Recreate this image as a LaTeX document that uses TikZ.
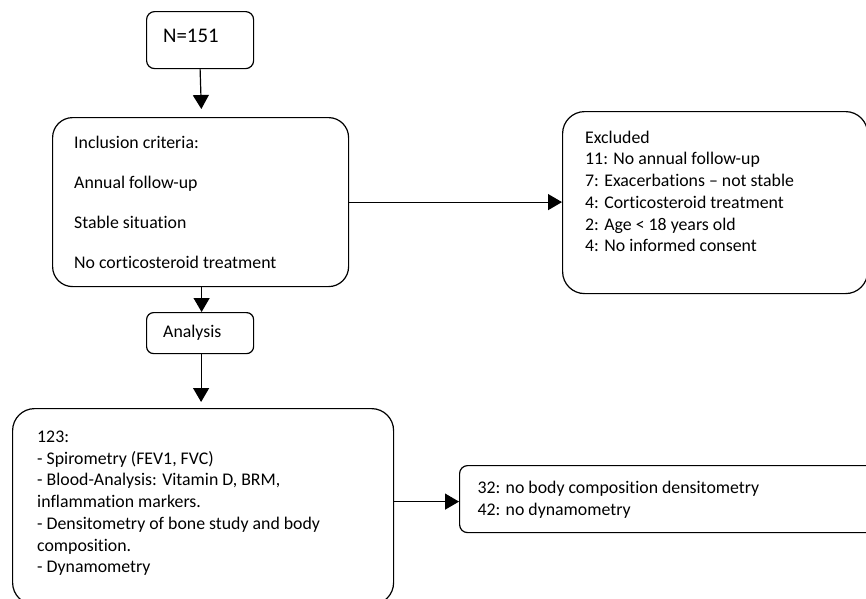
\documentclass[tikz,border=0pt]{standalone}
\usepackage{fontspec}
\setmainfont{Carlito}[Ligatures=NoCommon]
\usetikzlibrary{arrows.meta,calc}
\begin{document}
\begin{tikzpicture}[x=1pt,y=-1pt,
  box/.style={draw, line width=1.2pt, anchor=north west, inner sep=0pt},
  txt/.style={anchor=base west, inner sep=0pt, font=\fontsize{17.8}{21.7}\selectfont, align=left},
  arr/.style={line width=1.2pt, -{Triangle[length=14pt,width=16pt]}}]
\useasboundingbox (0,0) rectangle (866,598);
\clip (0,0) rectangle (866,598);
% boxes
\node[box, rounded corners=8pt, minimum width=107pt, minimum height=57pt] (nbox) at (146,11) {};
\node[box, rounded corners=20pt, minimum width=296pt, minimum height=169pt] (incl) at (52,117) {};
\node[box, rounded corners=22pt, minimum width=305pt, minimum height=182pt] (excl) at (562,111) {};
\node[box, rounded corners=7pt, minimum width=107pt, minimum height=41pt] (ana) at (146,312) {};
\node[box, rounded corners=22pt, minimum width=381pt, minimum height=196pt] (res) at (12,408) {};
\node[box, rounded corners=8pt, minimum width=420pt, minimum height=67pt] (miss) at (459,465) {};
% texts (anchored at the baseline of their last line)
\node[txt, font=\fontsize{20.8}{25}\selectfont] (ntxt) at (163,42) {N=151};
\node[txt] (incltxt) at (74,268) {Inclusion criteria:\\[18pt]Annual follow-up\\[18pt]Stable situation\\[18pt]No corticosteroid treatment};
\node[txt] (excltxt) at (585,251.7) {Excluded\\11: No annual follow-up\\7: Exacerbations – not stable\\4: Corticosteroid treatment\\2: Age < 18 years old\\4: No informed consent};
\node[txt] (anatxt) at (163,337.3) {Analysis};
\node[txt] (restxt) at (37,572.7) {123:\\- Spirometry (FEV1, FVC)\\- Blood-Analysis: Vitamin D, BRM,\\inflammation markers.\\- Densitometry of bone study and body\\composition.\\- Dynamometry};
\node[txt] (misstxt) at (477.3,515) {32: no body composition densitometry\\42: no dynamometry};
% connectors
\draw[arr, shorten >=8pt] (nbox.south) -- ([xshift=1pt]incl.north);
\draw[arr] (incl.east) -- (incl.east -| excl.west);
\draw[arr] ([xshift=1pt]incl.south) -- ([xshift=1pt]incl.south |- ana.north);
\draw[arr, shorten >=6pt] ([xshift=1pt]ana.south) -- ([xshift=1pt]ana.south |- res.north);
\draw[arr] ([yshift=5pt]res.east) -- ([yshift=5pt]res.east -| miss.west);
\end{tikzpicture}
\end{document}
